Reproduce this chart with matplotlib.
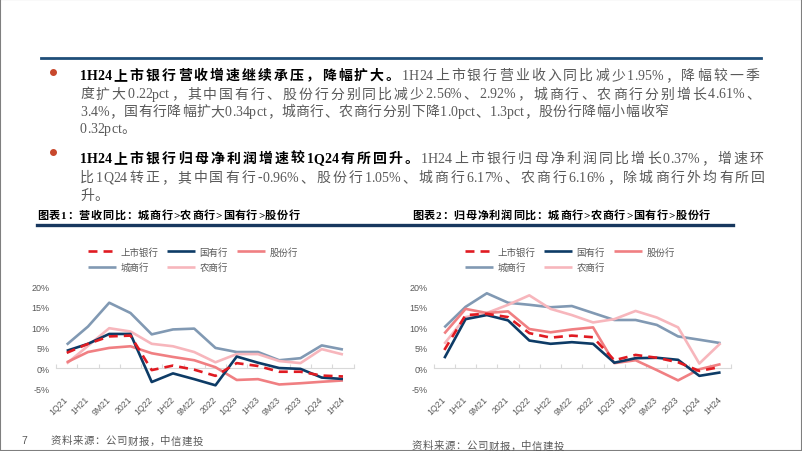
import matplotlib
matplotlib.use("Agg")
import matplotlib.pyplot as plt
from matplotlib import font_manager as fm
from matplotlib.ft2font import FT2Font
from matplotlib.font_manager import FontProperties
from matplotlib.lines import Line2D
from matplotlib.patches import Rectangle

W, H, DPI = 802, 452, 100

periods = ['1Q21', '1H21', '9M21', '2021', '1Q22', '1H22', '9M22', '2022',
           '1Q23', '1H23', '9M23', '2023', '1Q24', '1H24']
names = ['上市银行', '国有行', '股份行', '城商行', '农商行']
colors = ['#E01B22', '#0D3B66', '#F07F82', '#8199B3', '#F7B6BC']

# 营收同比 (%)
rev_listed = [3.8, 6.0, 7.8, 8.0, -0.4, 0.7, -0.3, -1.8, 1.3, 0.6, -0.8, -0.8, -1.73, -1.95]
rev_state = [4.3, 6.0, 8.4, 8.4, -3.3, -1.2, -2.6, -4.1, 2.9, 1.4, 0.1, -0.1, -2.22, -2.56]
rev_joint = [1.5, 4.0, 5.0, 5.4, 3.7, 2.8, 2.0, 0.3, -2.8, -2.6, -3.9, -3.6, -3.24, -2.92]
rev_city = [5.8, 10.2, 16.0, 13.5, 8.3, 9.5, 9.7, 5.0, 4.0, 4.0, 2.0, 2.5, 5.61, 4.61]
rev_rural = [1.2, 5.5, 9.8, 9.0, 6.0, 5.4, 4.0, 1.5, 3.5, 3.5, 1.8, 1.3, 4.7, 3.4]

# 归母净利润同比 (%)
prof_listed = [4.5, 13.0, 13.3, 12.5, 8.6, 7.5, 8.0, 7.6, 2.0, 3.3, 2.6, 1.5, -0.6, 0.37]
prof_state = [2.5, 12.0, 13.0, 11.7, 6.8, 6.0, 6.4, 6.0, 1.4, 2.5, 2.6, 2.1, -1.8, -0.96]
prof_joint = [8.5, 14.5, 13.5, 13.9, 9.6, 8.8, 9.5, 10.0, 1.3, 2.0, -0.4, -2.9, -0.2, 1.05]
prof_city = [10.0, 15.0, 18.3, 16.0, 15.5, 14.9, 15.2, 13.5, 11.8, 11.8, 10.6, 7.8, 7.0, 6.17]
prof_rural = [6.0, 12.5, 13.5, 15.5, 17.8, 14.5, 13.0, 11.2, 12.0, 14.0, 12.4, 10.0, 1.2, 6.16]

bullet1 = [
    [('1H24上市银行营收增速继续承压，降幅扩大。', 'bold'), ('1H24上市银行营业收入同比减少1.95%，降幅较一季', 'normal')],
    [('度扩大0.22pct，其中国有行、股份行分别同比减少2.56%、2.92%，城商行、农商行分别增长4.61%、', 'normal')],
    [('3.4%，国有行降幅扩大0.34pct，城商行、农商行分别下降1.0pct、1.3pct，股份行降幅小幅收窄', 'normal')],
    [('0.32pct。', 'normal')],
]
bullet2 = [
    [('1H24上市银行归母净利润增速较1Q24有所回升。', 'bold'), ('1H24上市银行归母净利润同比增长0.37%，增速环', 'normal')],
    [('比1Q24转正，其中国有行-0.96%、股份行1.05%、城商行6.17%、农商行6.16%，除城商行外均有所回', 'normal')],
    [('升。', 'normal')],
]
title1 = '图表1：营收同比：城商行>农商行>国有行>股份行'
title2 = '图表2：归母净利润同比：城商行>农商行>国有行>股份行'
source = '资料来源：公司财报，中信建投'

SERIF = ['Liberation Serif', 'Noto Sans CJK SC']
SANS = ['Liberation Sans', 'Noto Sans CJK SC']
GREY = '#595959'

fig = plt.figure(figsize=(W / DPI, H / DPI), dpi=DPI)

_fonts = {}


def advance(ch, prop):
    for fam in prop.get_family():
        p = prop.copy()
        p.set_family(fam)
        path = fm.findfont(p)
        if path not in _fonts:
            _fonts[path] = FT2Font(path)
        f = _fonts[path]
        if f.get_char_index(ord(ch)):
            f.set_size(prop.get_size_in_points(), DPI)
            return f.load_char(ord(ch)).linearHoriAdvance / 65536
    return prop.get_size_in_points() * DPI / 72 * 0.5


def is_wide(ch):
    return ord(ch) >= 0x2E80


def text_line(x, y, runs, size, color=GREY, right=None, track=0.5, family=SERIF):
    # x, y in pixels from top-left, y is the baseline; spacing only next to wide chars
    chars = []
    for s, weight in runs:
        prop = FontProperties(family=family, size=size, weight=weight)
        c = 'black' if weight == 'bold' and color == GREY else color
        for ch in s:
            chars.append((ch, prop, c, advance(ch, prop)))
    gaps = [i for i in range(len(chars) - 1)
            if is_wide(chars[i][0]) or is_wide(chars[i + 1][0])]
    total = sum(a for *_, a in chars)
    if right is not None and gaps:
        track = (right - x - total) / len(gaps)
    gapset = set(gaps)
    cx = x
    for i, (ch, prop, c, a) in enumerate(chars):
        fig.text(cx / W, 1 - y / H, ch, fontproperties=prop, color=c, va='baseline', ha='left')
        cx += a + (track if i in gapset else 0)


def hline(x0, x1, y, color, lw):
    fig.add_artist(Line2D([x0 / W, x1 / W], [1 - y / H, 1 - y / H], color=color, lw=lw,
                          transform=fig.transFigure))


def bullet(x, y):
    fig.add_artist(Line2D([x / W], [1 - y / H], marker='o', ms=4, color='#C8482C', lw=0,
                          transform=fig.transFigure))


# header rule and bullets
hline(41, 761, 59, '#1F4E79', 2.0)
bullet(53, 73)
for runs, yb, r in zip(bullet1, [80, 98.5, 116, 133], [759, 760, None, None]):
    text_line(80, yb, runs, 10, right=r, track=0.55)
bullet(53, 153)
for runs, yb, r in zip(bullet2, [163, 182, 200], [763, 765, None]):
    text_line(80, yb, runs, 10, right=r, track=0.55)

text_line(37, 219, [(title1, 'bold')], 8, color='black', track=0.7)
text_line(412, 219, [(title2, 'bold')], 8, color='black', track=0.7)
hline(37, 733, 226, '#17375E', 2.4)

text_line(21, 444.5, [('7', 'normal')], 7.5, family=SANS)
text_line(51, 444.5, [(source, 'normal')], 7.5, track=0.5)
text_line(412, 449.5, [(source, 'normal')], 7.5, track=0.5)


def chart(left, series, legend_left):
    ax = fig.add_axes([left / W, 1 - 390 / H, 297.5 / W, 102.7 / H])
    x = list(range(len(periods)))
    lines = {}
    for i in [3, 4, 2, 1, 0]:
        kw = dict(color=colors[i], lw=1.9, solid_capstyle='butt')
        if i == 0:
            kw['ls'] = (0, (3.4, 2.3))
        lines[i], = ax.plot(x, series[i], label=names[i], **kw)
    ax.set_xlim(-0.5, len(periods) - 0.5)
    ax.set_ylim(-5, 20)
    ax.set_yticks([-5, 0, 5, 10, 15, 20])
    ax.yaxis.set_major_formatter(lambda v, p: f'{v:.0f}%')
    ax.set_xticks(x)
    ax.set_xticklabels(periods, rotation=45, ha='right', va='center', rotation_mode='anchor',
                       fontsize=6.3, family=SANS)
    ax.tick_params(axis='x', length=0, pad=6, labelcolor=GREY)
    ax.tick_params(axis='y', length=0, pad=4.5, labelsize=6.5, labelcolor=GREY)
    for lab in ax.get_yticklabels():
        lab.set_family(SANS)
    for s in ax.spines.values():
        s.set_visible(False)
    ax.patch.set_visible(False)
    zero = ax.secondary_xaxis(0.2)
    zero.set_xticks([i - 0.5 for i in range(len(periods) + 1)])
    zero.tick_params(direction='in', length=3, width=0.8, color='#D9D9D9', labelbottom=False)
    zero.spines['bottom'].set_color('#D9D9D9')
    handles = [lines[0], lines[3], lines[1], lines[4], lines[2]]
    ax.legend(handles=handles, ncol=3, loc='upper left',
              bbox_to_anchor=(legend_left / W, 1 - 248 / H), bbox_transform=fig.transFigure,
              frameon=False, borderpad=0, borderaxespad=0, handlelength=3.0,
              handletextpad=0.45, columnspacing=0.9, labelspacing=0.6,
              prop=FontProperties(family=SANS, size=6.8), labelcolor=GREY)


chart(56.1, [rev_listed, rev_state, rev_joint, rev_city, rev_rural], 88)
chart(433.7, [prof_listed, prof_state, prof_joint, prof_city, prof_rural], 465)

fig.add_artist(Rectangle((0, 0), 1, 1, transform=fig.transFigure, fill=False,
                         edgecolor='#7F7F7F', lw=1.5))

fig.savefig('out.png', dpi=DPI)
